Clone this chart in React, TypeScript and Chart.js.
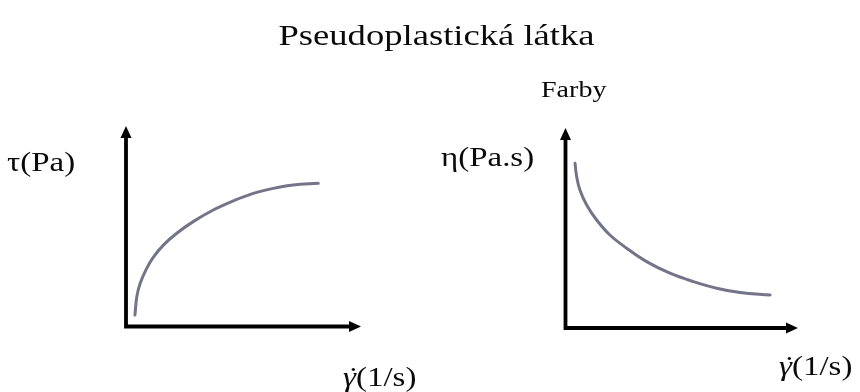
import React, { useEffect, useRef } from "react";
import { Chart, registerables } from "chart.js";

Chart.register(...registerables);

// Text
const titleText = "Pseudoplastická látka";
const stressLabel = "τ(Pa)";
const viscosityLabel = "η(Pa.s)";
const sampleLabel = "Farby";
const rateSymbol = "γ";
const rateDot = "˙";
const rateUnit = "(1/s)";

// Shared axis range (arbitrary units, no ticks shown)
const axisMin = 0;
const axisMax = 10;

// Shear stress τ against shear rate γ̇
const stressRate = [0.38, 0.46, 0.6, 0.88, 1.16, 1.59, 2.16, 2.86, 3.71, 4.57, 5.42, 6.27, 7.12, 8.18];
const stressValues = [0.57, 1.49, 2.15, 2.9, 3.45, 4.06, 4.65, 5.23, 5.81, 6.27, 6.64, 6.89, 7.06, 7.14];

// Viscosity η against shear rate γ̇
const viscosityRate = [0.41, 0.48, 0.62, 0.91, 1.34, 1.91, 2.63, 3.49, 4.49, 5.5, 6.5, 7.51, 8.8];
const viscosityValues = [8.24, 7.57, 6.9, 6.15, 5.4, 4.65, 3.99, 3.32, 2.74, 2.32, 1.99, 1.77, 1.65];

const WIDTH = 860;
const HEIGHT = 392;
const FONT = "'Liberation Serif', 'Times New Roman', serif";
const STRETCH = 1.22;
const INK = "#0a0a0a";
const CURVE = "rgb(116,116,136)";

type Part = { text: string; italic?: boolean; over?: boolean };

// Draws a run of text, widened horizontally; an "over" part is centred on the previous one
function drawStretched(ctx: CanvasRenderingContext2D, parts: Part[], x: number, y: number, size: number, center: boolean) {
  ctx.save();
  ctx.fillStyle = INK;
  ctx.textBaseline = "alphabetic";
  ctx.textAlign = "left";
  const fontOf = (p: Part) => `${p.italic ? "italic " : ""}${size}px ${FONT}`;
  let total = 0;
  const widths = parts.map((p) => {
    ctx.font = fontOf(p);
    const w = ctx.measureText(p.text).width;
    if (!p.over) total += w;
    return w;
  });
  let cx = center ? x - (total * STRETCH) / 2 : x;
  let prevX = cx;
  let prevW = 0;
  parts.forEach((p, i) => {
    ctx.font = fontOf(p);
    ctx.save();
    if (p.over) {
      const px = prevX + (prevW * STRETCH) / 2 - (widths[i] * STRETCH) / 2 + size * 0.06;
      ctx.translate(px, y);
    } else {
      ctx.translate(cx, y);
    }
    ctx.scale(STRETCH, 1);
    ctx.fillText(p.text, 0, 0);
    ctx.restore();
    if (!p.over) {
      prevX = cx;
      prevW = widths[i];
      cx += widths[i] * STRETCH;
    }
  });
  ctx.restore();
}

// Draws the arrowed axes and the free-standing labels
const arrowAxes = {
  id: "arrowAxes",
  afterDraw(chart: any, _args: any, opts: any) {
    const { ctx, chartArea } = chart;
    const { left, right, top, bottom } = chartArea;
    const head = 12;
    const half = 5.5;
    ctx.save();
    ctx.strokeStyle = "#000";
    ctx.fillStyle = "#000";
    ctx.lineWidth = 3.8;
    ctx.lineCap = "butt";
    ctx.beginPath();
    ctx.moveTo(left, top + head - 1);
    ctx.lineTo(left, bottom);
    ctx.lineTo(right - head + 1, bottom);
    ctx.stroke();
    ctx.beginPath();
    ctx.moveTo(left, top);
    ctx.lineTo(left - half, top + head);
    ctx.lineTo(left + half, top + head);
    ctx.closePath();
    ctx.fill();
    ctx.beginPath();
    ctx.moveTo(right, bottom);
    ctx.lineTo(right - head, bottom - half);
    ctx.lineTo(right - head, bottom + half);
    ctx.closePath();
    ctx.fill();
    ctx.restore();

    (opts.labels || []).forEach((l: any) => {
      drawStretched(ctx, l.parts, l.x, l.y, l.size, !!l.center);
    });
  },
};

function makeChart(canvas: HTMLCanvasElement, xs: number[], ys: number[], padding: any, labels: any[]) {
  return new Chart(canvas, {
    type: "line",
    data: {
      datasets: [
        {
          data: xs.map((x, i) => ({ x, y: ys[i] })),
          borderColor: CURVE,
          borderWidth: 3,
          borderCapStyle: "round",
          pointRadius: 0,
          tension: 0.4,
          fill: false,
        },
      ],
    },
    options: {
      animation: false,
      responsive: false,
      devicePixelRatio: 1,
      layout: { padding },
      scales: {
        x: { type: "linear", min: axisMin, max: axisMax, display: false },
        y: { type: "linear", min: axisMin, max: axisMax, display: false },
      },
      plugins: {
        legend: { display: false },
        tooltip: { enabled: false },
        title: { display: false },
        arrowAxes: { labels },
      } as any,
    },
    plugins: [arrowAxes],
  } as any);
}

const rateParts: Part[] = [{ text: rateSymbol, italic: true }, { text: rateDot, italic: true, over: true }, { text: rateUnit }];

export default function App() {
  const leftRef = useRef<HTMLCanvasElement>(null);
  const rightRef = useRef<HTMLCanvasElement>(null);

  useEffect(() => {
    document.body.style.margin = "0";
    const left = makeChart(
      leftRef.current!,
      stressRate,
      stressValues,
      { left: 126, right: WIDTH - 361, top: 126, bottom: HEIGHT - 326.5 },
      [
        { parts: [{ text: titleText }], x: 436.5, y: 45, size: 30, center: true },
        { parts: [{ text: stressLabel }], x: 7, y: 171, size: 27 },
        { parts: rateParts, x: 343, y: 386, size: 27 },
      ]
    );
    const right = makeChart(
      rightRef.current!,
      viscosityRate,
      viscosityValues,
      { left: 565.5, right: WIDTH - 798, top: 128, bottom: HEIGHT - 328 },
      [
        { parts: [{ text: sampleLabel }], x: 541, y: 97, size: 23 },
        { parts: [{ text: viscosityLabel }], x: 441, y: 166, size: 27 },
        { parts: rateParts, x: 779, y: 375, size: 27 },
      ]
    );
    let alive = true;
    const fonts = (document as any).fonts;
    if (fonts && fonts.load) {
      Promise.all([
        fonts.load(`30px 'Liberation Serif'`),
        fonts.load(`italic 27px 'Liberation Serif'`),
      ])
        .catch(() => null)
        .then(() => {
          if (alive) {
            left.draw();
            right.draw();
          }
        });
    }
    return () => {
      alive = false;
      left.destroy();
      right.destroy();
    };
  }, []);

  const canvasStyle: React.CSSProperties = { position: "absolute", left: 0, top: 0 };
  return (
    <div style={{ position: "relative", width: WIDTH, height: HEIGHT, background: "#fff", overflow: "hidden" }}>
      <canvas ref={leftRef} width={WIDTH} height={HEIGHT} style={canvasStyle} />
      <canvas ref={rightRef} width={WIDTH} height={HEIGHT} style={{ ...canvasStyle, pointerEvents: "none" }} />
    </div>
  );
}
